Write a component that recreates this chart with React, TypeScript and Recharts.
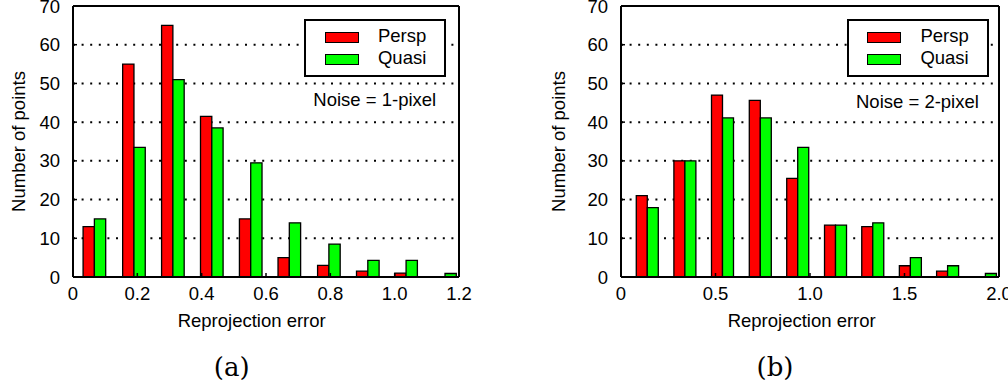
import { BarChart, Bar, XAxis, YAxis, CartesianGrid, Legend } from 'recharts';

const FONT = '"Liberation Sans", Arial, Helvetica, sans-serif';

// (a) noise = 1 pixel
const binsA = [0.066, 0.189, 0.31, 0.431, 0.552, 0.672, 0.795, 0.916, 1.035, 1.156];
const perspA = [13, 55, 65, 41.5, 15, 5, 3, 1.5, 1, 0];
const quasiA = [15, 33.5, 51, 38.5, 29.5, 14, 8.5, 4.3, 4.3, 0.9];

// (b) noise = 2 pixel
const binsB = [0.137, 0.336, 0.535, 0.735, 0.933, 1.133, 1.33, 1.529, 1.726, 1.926];
const perspB = [21, 30, 47, 45.6, 25.5, 13.4, 13, 2.9, 1.5, 0];
const quasiB = [17.9, 30, 41.1, 41.1, 33.5, 13.4, 14, 5, 2.9, 0.9];

const xTicksA = [0, 0.2, 0.4, 0.6, 0.8, 1.0, 1.2];
const xTicksB = [0, 0.5, 1.0, 1.5, 2.0];
const yTicks = [0, 10, 20, 30, 40, 50, 60, 70];

const toRows = (bins: number[], persp: number[], quasi: number[]) =>
  bins.map((x, i) => ({ x, persp: persp[i], quasi: quasi[i] }));

const fmt = (v: number) => (v === 0 ? '0' : v.toFixed(1));

function XTitle({ viewBox, shift }: any) {
  if (!viewBox) return null;
  const { x, y, width } = viewBox;
  return (
    <text x={x + width / 2 + shift} y={y + 49.7} textAnchor="middle" fontSize={18.5} fontFamily={FONT} fill="#000">
      Reprojection error
    </text>
  );
}

function YTitle({ viewBox, cx }: any) {
  if (!viewBox) return null;
  const cy = viewBox.y + viewBox.height / 2;
  return (
    <text
      x={cx}
      y={cy}
      transform={`rotate(-90 ${cx} ${cy})`}
      textAnchor="middle"
      dominantBaseline="central"
      fontSize={18.5}
      fontFamily={FONT}
      fill="#000"
    >
      Number of points
    </text>
  );
}

function LegendBox({ payload }: any) {
  return (
    <div
      style={{
        position: 'relative',
        width: 142,
        height: 58,
        boxSizing: 'border-box',
        border: '2px solid #000',
        background: '#fff',
        fontFamily: FONT,
        fontSize: 18.5,
        lineHeight: '18.5px',
        color: '#000',
      }}
    >
      {(payload || []).map((p: any, i: number) => (
        <div key={p.value}>
          <div
            style={{
              position: 'absolute',
              left: 18.7,
              top: 10.4 + i * 22.6,
              width: 34,
              height: 11,
              boxSizing: 'border-box',
              border: '1px solid #000',
              background: p.color,
            }}
          />
          <div style={{ position: 'absolute', left: 71.7, top: 5.7 + i * 22.4, whiteSpace: 'nowrap' }}>{p.value}</div>
        </div>
      ))}
    </div>
  );
}

function Panel({ rows, width, plotLeft, plotRight, xMax, xTicks, barSize, titleShift, yTitleX, legendLeft, noise, noiseLeft, noiseTop }: any) {
  const axisLine = { stroke: '#000', strokeWidth: 2 };
  const tickLine = { stroke: '#000', strokeWidth: 1.5 };
  const tick = { fill: '#000', fontSize: 18.5, fontFamily: FONT };
  return (
    <div style={{ position: 'relative', width, height: 385 }}>
      <BarChart
        width={width}
        height={385}
        data={rows}
        barGap={0}
        margin={{ top: 5, bottom: 78, left: plotLeft - 60, right: width - plotRight - 1 }}
      >
        <CartesianGrid xAxisId="b" yAxisId="l" vertical={false} stroke="#000" strokeWidth={2} strokeDasharray="2 6.6" />
        <XAxis
          xAxisId="b"
          type="number"
          dataKey="x"
          domain={[0, xMax]}
          allowDataOverflow
          ticks={xTicks}
          interval={0}
          tickFormatter={fmt}
          height={30}
          tickSize={-4}
          tickMargin={14}
          axisLine={axisLine}
          tickLine={tickLine}
          tick={tick}
          label={<XTitle shift={titleShift} />}
        />
        <XAxis
          xAxisId="t"
          orientation="top"
          type="number"
          domain={[0, xMax]}
          allowDataOverflow
          ticks={xTicks}
          interval={0}
          height={1}
          tickSize={-4}
          axisLine={axisLine}
          tickLine={tickLine}
          tick={false}
        />
        <YAxis
          yAxisId="l"
          type="number"
          domain={[0, 70]}
          allowDataOverflow
          ticks={yTicks}
          interval={0}
          width={60}
          tickSize={-4}
          tickMargin={17}
          axisLine={axisLine}
          tickLine={tickLine}
          tick={tick}
          label={<YTitle cx={yTitleX} />}
        />
        <YAxis
          yAxisId="r"
          orientation="right"
          type="number"
          domain={[0, 70]}
          allowDataOverflow
          ticks={yTicks}
          interval={0}
          width={1}
          tickSize={-4}
          axisLine={axisLine}
          tickLine={tickLine}
          tick={false}
        />
        <Legend
          layout="vertical"
          align="center"
          verticalAlign="middle"
          content={<LegendBox />}
          wrapperStyle={{ position: 'absolute', left: legendLeft, top: 19.3, width: 142, height: 58 }}
        />
        <Bar xAxisId="b" yAxisId="l" dataKey="persp" name="Persp" fill="#ff0000" stroke="#000" strokeWidth={1.3} barSize={barSize} isAnimationActive={false} />
        <Bar xAxisId="b" yAxisId="l" dataKey="quasi" name="Quasi" fill="#00ff00" stroke="#000" strokeWidth={1.3} barSize={barSize} isAnimationActive={false} />
      </BarChart>
      <div
        style={{
          position: 'absolute',
          left: noiseLeft,
          top: noiseTop,
          fontFamily: FONT,
          fontSize: 18.5,
          lineHeight: '18.5px',
          color: '#000',
          whiteSpace: 'nowrap',
        }}
      >
        {noise}
      </div>
    </div>
  );
}

function Caption({ text, cx }: { text: string; cx: number }) {
  return (
    <div
      style={{
        position: 'absolute',
        left: cx - 50,
        top: 354,
        width: 100,
        textAlign: 'center',
        fontFamily: '"DejaVu Serif", serif',
        fontSize: 26,
        lineHeight: '26px',
        color: '#000',
      }}
    >
      {text}
    </div>
  );
}

export default function App() {
  return (
    <div style={{ position: 'absolute', left: 0, top: 0, width: 1008, height: 385, background: '#fff', overflow: 'hidden' }}>
      <div style={{ position: 'absolute', left: 0, top: 0 }}>
        <Panel
          rows={toRows(binsA, perspA, quasiA)}
          width={500}
          plotLeft={73}
          plotRight={459}
          xMax={1.2}
          xTicks={xTicksA}
          barSize={11.3}
          titleShift={-14.3}
          yTitleX={18.3}
          legendLeft={304.3}
          noise="Noise = 1-pixel"
          noiseLeft={313.3}
          noiseTop={91}
        />
      </div>
      <div style={{ position: 'absolute', left: 500, top: 0 }}>
        <Panel
          rows={toRows(binsB, perspB, quasiB)}
          width={508}
          plotLeft={121}
          plotRight={499}
          xMax={2.0}
          xTicks={xTicksB}
          barSize={11}
          titleShift={-8.3}
          yTitleX={58.3}
          legendLeft={346.7}
          noise="Noise = 2-pixel"
          noiseLeft={356}
          noiseTop={92.5}
        />
      </div>
      <Caption text="(a)" cx={231.7} />
      <Caption text="(b)" cx={775} />
    </div>
  );
}
